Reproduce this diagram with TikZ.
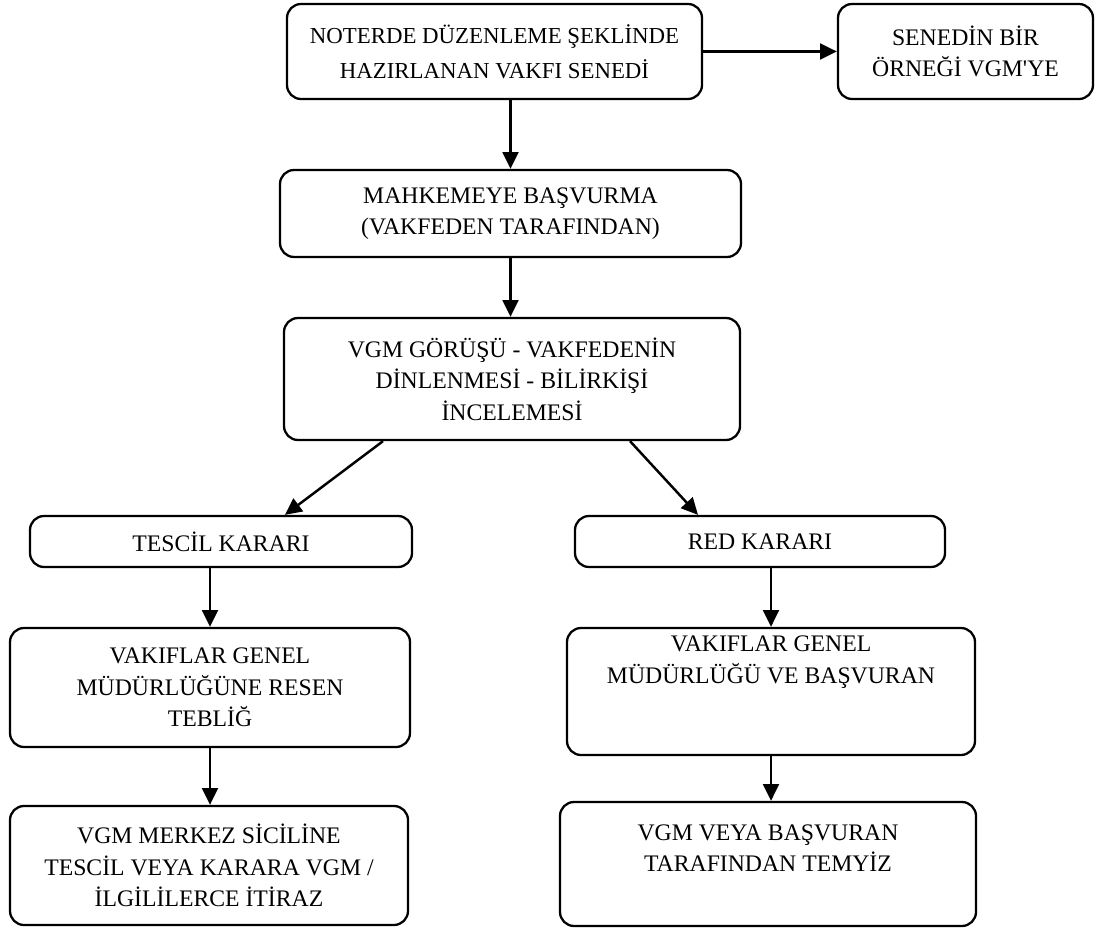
\documentclass[tikz,border=0pt]{standalone}
\usepackage{fontspec}
\setmainfont{Liberation Serif}
\usetikzlibrary{arrows.meta,calc}

\tikzset{
    box/.style={draw, line width=1.3pt, rounded corners=8pt, align=center, inner sep=0pt,
        font=\fontsize{13.5pt}{18pt}\selectfont},
    arr/.style={line width=1.4pt, -{Triangle[length=9.5pt,width=9pt]}}
}

\begin{document}
\begin{tikzpicture}[x=0.02cm, y=-0.02cm]
\newcommand\pxl{0.02cm}
\useasboundingbox (0, 0) rectangle (1095, 932);

\node (noter) at (494.5, 51.5) [box, minimum width=415*\pxl, minimum height=95*\pxl,
    font=\fontsize{13pt}{20pt}\selectfont] {NOTERDE DÜZENLEME ŞEKLİNDE\\HAZIRLANAN VAKFI SENEDİ};
\node (ornek) at (965.5, 51.5) [box, minimum width=255*\pxl, minimum height=95*\pxl] {SENEDİN BİR\\ÖRNEĞİ VGM\textquotesingle YE};
\node (mahkeme) at (510.5, 213.5) [box, minimum width=461*\pxl, minimum height=87*\pxl] {MAHKEMEYE BAŞVURMA\\(VAKFEDEN TARAFINDAN)};
\node (gorus) at (512, 379) [box, minimum width=456*\pxl, minimum height=122*\pxl] {VGM GÖRÜŞÜ - VAKFEDENİN\\DİNLENMESİ - BİLİRKİŞİ\\İNCELEMESİ};

\node (tescil) at (221, 541.5) [box, minimum width=382*\pxl, minimum height=51*\pxl] {TESCİL KARARI};
\node (red) at (760, 541.5) [box, minimum width=370*\pxl, minimum height=51*\pxl] {RED KARARI};

\node (teblig) at (210, 687.5) [box, minimum width=400*\pxl, minimum height=119*\pxl] {VAKIFLAR GENEL\\MÜDÜRLÜĞÜNE RESEN\\TEBLİĞ};
\node (basvuran) at (771, 691.5) [box, minimum width=408*\pxl, minimum height=127*\pxl] {VAKIFLAR GENEL\\MÜDÜRLÜĞÜ VE BAŞVURAN\\~\\~};

\node (itiraz) at (209, 865.5) [box, minimum width=398*\pxl, minimum height=119*\pxl] {VGM MERKEZ SİCİLİNE\\TESCİL VEYA KARARA VGM /\\İLGİLİLERCE İTİRAZ};
\node (temyiz) at (768, 864) [box, minimum width=416*\pxl, minimum height=124*\pxl] {VGM VEYA BAŞVURAN\\TARAFINDAN TEMYİZ\\~};

% connectors
\draw [arr] (noter) -- (ornek);
\draw [arr] (noter.south -| mahkeme.north) -- (mahkeme.north);
\draw [arr] (mahkeme.south) -- (mahkeme.south |- gorus.north);
\draw [arr] ($(gorus.south)+(-129, 0)$) -- ($(tescil.north)+(64, 0)$);
\draw [arr] ($(gorus.south)+(118, 0)$) -- ($(red.north)+(-62, 0)$);
\draw [arr] (tescil.south -| teblig.north) -- (teblig.north);
\draw [arr] (red.south -| basvuran.north) -- (basvuran.north);
\draw [arr] (teblig.south) -- (teblig.south |- itiraz.north);
\draw [arr] (basvuran.south) -- (basvuran.south |- temyiz.north);
\end{tikzpicture}
\end{document}
